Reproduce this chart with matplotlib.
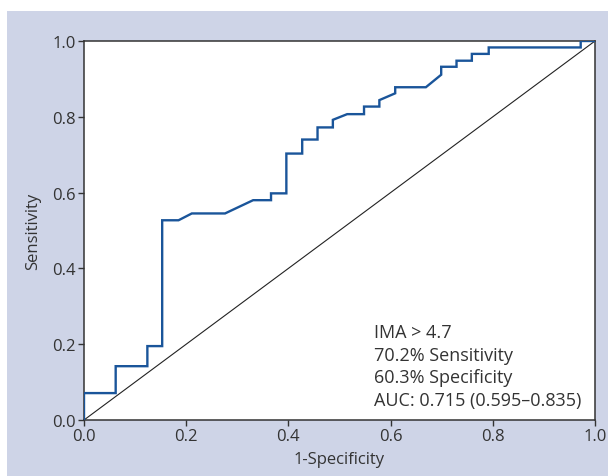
import matplotlib
matplotlib.use("Agg")
import matplotlib.pyplot as plt
from matplotlib.patches import Rectangle

plt.rcParams['font.family'] = ['Open Sans', 'DejaVu Sans']

fpr = [0, 0, 0.062, 0.062, 0.124, 0.124, 0.153, 0.153, 0.185, 0.211, 0.276,
       0.331, 0.366, 0.366, 0.396, 0.396, 0.427, 0.427, 0.457, 0.457, 0.487,
       0.487, 0.515, 0.548, 0.548, 0.578, 0.578, 0.609, 0.609, 0.669, 0.699,
       0.699, 0.729, 0.729, 0.759, 0.759, 0.792, 0.792, 0.972, 0.972, 1.0]
tpr = [0, 0.071, 0.071, 0.142, 0.142, 0.195, 0.195, 0.527, 0.527, 0.545, 0.545,
       0.580, 0.580, 0.598, 0.598, 0.703, 0.703, 0.740, 0.740, 0.772, 0.772,
       0.792, 0.807, 0.807, 0.827, 0.827, 0.844, 0.862, 0.878, 0.878, 0.911,
       0.932, 0.932, 0.948, 0.948, 0.966, 0.966, 0.983, 0.983, 1.0, 1.0]
ticks = [0.0, 0.2, 0.4, 0.6, 0.8, 1.0]
tick_labels = ["0.0", "0.2", "0.4", "0.6", "0.8", "1.0"]
annot_lines = ["IMA > 4.7", "70.2% Sensitivity", "60.3% Specificity",
               "AUC: 0.715 (0.595\u20130.835)"]

W, H = 608, 477
fig = plt.figure(figsize=(W / 100, H / 100), dpi=100, facecolor='white')
bg = Rectangle((7 / W, 0), 1 - 7 / W, 1 - 12 / H,
               transform=fig.transFigure, facecolor='#ced4e7',
               edgecolor='none', zorder=-10)
fig.add_artist(bg)

ax = fig.add_axes([84 / W, (H - 421) / H, 511 / W, 379 / H])
ax.set_zorder(5)
ax.set_facecolor('white')
ax.plot([0, 1], [0, 1], color='#222222', lw=0.8, zorder=2)
ax.plot(fpr, tpr, color='#1a559a', lw=1.7, zorder=3, solid_joinstyle='miter')
ax.set_xlim(0, 1)
ax.set_ylim(0, 1)
ax.set_xticks(ticks)
ax.set_xticklabels(tick_labels)
ax.set_yticks(ticks)
ax.set_yticklabels(tick_labels)
ax.tick_params(direction='out', length=4, width=1, color='#333333',
               labelsize=12, labelcolor='#333333', pad=2)
for s in ax.spines.values():
    s.set_color('#333333')
    s.set_linewidth(1.1)
ax.set_xlabel('1-Specificity', fontsize=12, color='#333333', labelpad=5)
ax.set_ylabel('Sensitivity', fontsize=12, color='#333333', labelpad=8)

ys = [0.232, 0.172, 0.113, 0.053]
for t, y in zip(annot_lines, ys):
    ax.text(0.567, y, t, fontsize=13, color='#333333', va='center', ha='left')

fig.savefig('out.png', dpi=100, facecolor='white')
